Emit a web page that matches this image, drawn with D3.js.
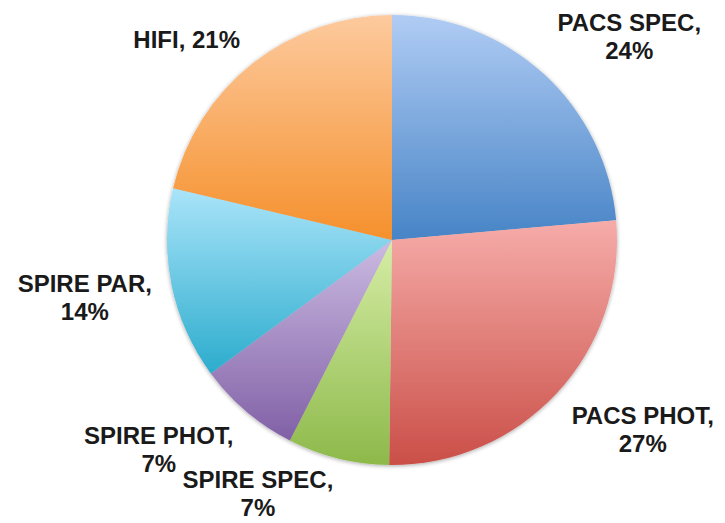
<!DOCTYPE html>
<html>
<head>
<meta charset="utf-8">
<script src="https://cdn.jsdelivr.net/npm/d3@7"></script>
<style>
  html, body { margin: 0; padding: 0; background: #fff; }
  svg { display: block; }
  .lbl { font-family: "Liberation Sans", Arial, Helvetica, sans-serif; font-weight: bold; font-size: 24px; fill: #1a1a1a; }
</style>
</head>
<body>
<svg id="chart" width="725" height="523"></svg>
<script>
// data
var names = ["PACS SPEC", "PACS PHOT", "SPIRE SPEC", "SPIRE PHOT", "SPIRE PAR", "HIFI"];
var shares = [23.6, 26.6, 7.3, 7.4, 13.8, 21.3];
var topColors = ["#b0ccf4", "#f6aca9", "#d6eda6", "#cbbbe2", "#aae4f9", "#fdca9e"];
var bottomColors = ["#4784c6", "#ca4f48", "#8db94a", "#8160a6", "#2caccd", "#f5902c"];

var WIDTH = 725, HEIGHT = 523;
var CX = 392, CY = 240, RADIUS = 225;
var LABEL_R = 245;
var LINE_H = 28;
var CAP_H = 17;
var DESCENT = 6;

var svg = d3.select("#chart");
var defs = svg.append("defs");

// soft shadow under the pie
var shadow = defs.append("filter").attr("id", "shadow")
  .attr("x", "-10%").attr("y", "-10%").attr("width", "120%").attr("height", "120%");
shadow.append("feGaussianBlur").attr("in", "SourceAlpha").attr("stdDeviation", 2);
shadow.append("feOffset").attr("dx", 0).attr("dy", 1).attr("result", "b");
shadow.append("feComponentTransfer").append("feFuncA").attr("type", "linear").attr("slope", 0.35);
var merge = shadow.append("feMerge");
merge.append("feMergeNode");
merge.append("feMergeNode").attr("in", "SourceGraphic");

// one vertical gradient per slice
names.forEach(function(n, i) {
  var g = defs.append("linearGradient").attr("id", "grad" + i)
    .attr("x1", 0).attr("y1", 0).attr("x2", 0).attr("y2", 1);
  g.append("stop").attr("offset", "0%").attr("stop-color", topColors[i]);
  g.append("stop").attr("offset", "100%").attr("stop-color", bottomColors[i]);
});

var data = names.map(function(n, i) { return { name: n, value: shares[i], idx: i }; });
var total = d3.sum(shares);

var pie = d3.pie().sort(null).value(function(d) { return d.value; });
var arc = d3.arc().innerRadius(0).outerRadius(RADIUS);
var arcs = pie(data);

var g = svg.append("g").attr("transform", "translate(" + CX + "," + CY + ")");

g.append("g").attr("filter", "url(#shadow)")
  .selectAll("path")
  .data(arcs)
  .enter().append("path")
  .attr("d", arc)
  .attr("fill", function(d) { return "url(#grad" + d.data.idx + ")"; });

// labels: box corner nearest the centre sits on a ring just outside the pie
arcs.forEach(function(a) {
  var mid = (a.startAngle + a.endAngle) / 2;
  var s = Math.sin(mid), c = Math.cos(mid);
  var px = LABEL_R * s, py = -LABEL_R * c;
  var pct = Math.round(a.data.value / total * 100) + "%";
  var lines = a.data.name.indexOf(" ") >= 0 ? [a.data.name + ",", pct] : [a.data.name + ", " + pct];

  var t = g.append("text").attr("class", "lbl").attr("text-anchor", "middle");
  lines.forEach(function(l, k) {
    t.append("tspan").attr("x", 0).attr("dy", k === 0 ? 0 : LINE_H).text(l);
  });
  var w = d3.max(t.selectAll("tspan").nodes(), function(n) { return n.getComputedTextLength(); });
  var h = CAP_H + (lines.length - 1) * LINE_H;

  var boxX = s >= 0 ? px : px - w;
  // near the horizontal the box slides towards being centred on the ring point
  var fy = Math.max(-1, Math.min(1, c / 0.5));
  var boxTop = py - h * (1 + fy) / 2;
  // keep inside the page, descenders included
  var maxTop = HEIGHT - CY - DESCENT - 1 - h;
  if (boxTop > maxTop) boxTop = maxTop;
  t.attr("transform", "translate(" + (boxX + w / 2) + "," + (boxTop + CAP_H) + ")");
});
</script>
</body>
</html>
